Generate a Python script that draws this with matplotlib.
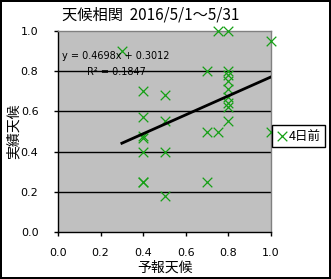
import matplotlib
matplotlib.use("Agg")
import matplotlib.pyplot as plt

plt.rcParams['font.family'] = ['Noto Sans CJK JP', 'DejaVu Sans']

# -----------------------------
# data (予報天候 vs 実績天候, 4日前)
# -----------------------------
forecast = [0.3, 0.75, 0.8, 1.0, 0.7,
            0.8, 0.8, 0.8, 0.8, 0.8, 0.8, 0.8, 0.8,
            0.4, 0.4, 0.4, 0.4, 0.4, 0.4, 0.4,
            0.5, 0.5, 0.5, 0.5,
            0.7, 0.75, 1.0, 0.7]
actual = [0.9, 1.0, 1.0, 0.95, 0.8,
          0.8, 0.78, 0.75, 0.71, 0.67, 0.64, 0.62, 0.55,
          0.7, 0.57, 0.48, 0.47, 0.4, 0.25, 0.25,
          0.68, 0.55, 0.4, 0.18,
          0.5, 0.5, 0.5, 0.25]
slope, intercept, r2 = 0.4698, 0.3012, 0.1847
series_label = '4日前'
title = '天候相関  2016/5/1～5/31'
xticks = [0.0, 0.2, 0.4, 0.6, 0.8, 1.0]
yticks = [0.0, 0.2, 0.4, 0.6, 0.8, 1.0]

# -----------------------------
# figure
# -----------------------------
fig = plt.figure(figsize=(3.31, 2.79), dpi=100)
fig.patch.set_facecolor('white')
fig.patch.set_edgecolor('black')
fig.patch.set_linewidth(1.5)

ax = fig.add_axes([0.175, 0.167, 0.644, 0.723])
ax.set_facecolor('#c0c0c0')

for y in yticks[1:-1]:
    ax.axhline(y, color='black', lw=1, zorder=1)

ax.scatter(forecast, actual, marker='x', s=48, color='#16a016',
           linewidths=0.9, zorder=3, label=series_label, clip_on=False)

# trend line
x0, x1 = min(forecast), max(forecast)
ax.plot([x0, x1], [slope * x0 + intercept, slope * x1 + intercept],
        color='black', lw=2, zorder=4)

ax.text(0.02, 0.875, f'y = {slope:.4f}x + {intercept:.4f}',
        transform=ax.transAxes, fontsize=7, family='DejaVu Sans',
        va='center', ha='left', zorder=5)
ax.text(0.135, 0.795, f'R² = {r2:.4f}',
        transform=ax.transAxes, fontsize=7, family='DejaVu Sans',
        va='center', ha='left', zorder=5)

ax.set_xlim(0, 1)
ax.set_ylim(0, 1)
ax.set_xticks(xticks)
ax.set_yticks(yticks)
ax.set_xticklabels([f'{t:.1f}' for t in xticks], fontsize=8, family='DejaVu Sans')
ax.set_yticklabels([f'{t:.1f}' for t in yticks], fontsize=8, family='DejaVu Sans')
ax.tick_params(direction='out', length=3, width=1, color='black')
ax.tick_params(axis='y', pad=11)
ax.tick_params(axis='x', pad=8)

for side in ('left', 'bottom'):
    ax.spines[side].set_color('black')
    ax.spines[side].set_linewidth(1)
for side in ('top', 'right'):
    ax.spines[side].set_color('#808080')
    ax.spines[side].set_linewidth(1)

# axis titles placed directly in figure pixels
fig.text(165 / 331, 1 - 268 / 279, '予報天候', fontsize=10,
         ha='center', va='center')
fig.text(14 / 331, 1 - 131 / 279, '実績天候', fontsize=10,
         ha='center', va='center', rotation=90)
fig.text(151 / 331, 1 - 15 / 279, title, fontsize=11, ha='center', va='center')

leg = ax.legend(loc='center left', bbox_to_anchor=(1.005, 0.478),
                fancybox=False, framealpha=1, edgecolor='black',
                fontsize=9, handlelength=0.8, handletextpad=0.2,
                borderpad=0.35, borderaxespad=0)
leg.get_frame().set_linewidth(1)

fig.savefig('out.png', dpi=100, facecolor=fig.get_facecolor(),
            edgecolor=fig.get_edgecolor())
